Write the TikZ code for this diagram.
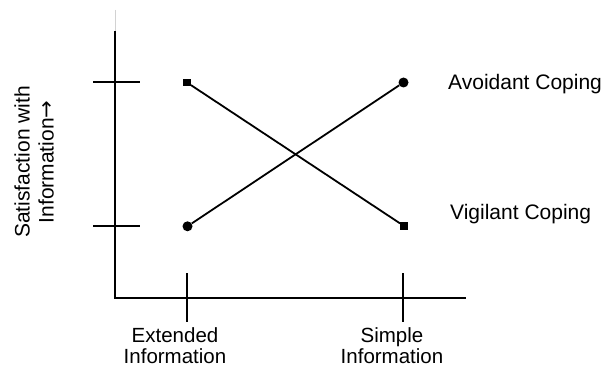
\documentclass[tikz,border=0pt]{standalone}
\usepackage{fontspec}
\setmainfont{Liberation Sans}
\newfontfamily\arrowfont{DejaVu Sans}
\usetikzlibrary{positioning}

\begin{document}
\begin{tikzpicture}[
    x=1pt,y=-1pt,
    font=\fontsize{21}{22}\selectfont,
    axis/.style={line width=2pt},
    tickmark/.style={line width=2pt},
    trend/.style={line width=1.8pt},
    dotmark/.style={circle,fill,inner sep=0pt,minimum size=10pt},
    sqmark/.style={rectangle,fill,inner sep=0pt,minimum size=7.5pt},
    legend/.style={anchor=base west,inner sep=0pt},
    xlabel/.style={align=center,anchor=north,inner sep=0pt,font=\fontsize{20.5}{21}\selectfont}
  ]
  \useasboundingbox (0,0) rectangle (606,369);

  \coordinate (o) at (115,298);
  \coordinate (ytop) at (115,31);
  \coordinate (yfaint) at (115,10);
  \coordinate (xend) at (466,298);
  \draw[gray!35,line width=1pt] (yfaint) -- (ytop);
  \draw[axis] (ytop) -- (o) -- (xend);

  \coordinate (yt1a) at (93,82);  \coordinate (yt1b) at (140,82);
  \coordinate (yt2a) at (93,226); \coordinate (yt2b) at (140,226);
  \draw[tickmark] (yt1a) -- (yt1b);
  \draw[tickmark] (yt2a) -- (yt2b);

  \coordinate (xt1a) at (187,273); \coordinate (xt1b) at (187,322);
  \coordinate (xt2a) at (403,273); \coordinate (xt2b) at (403,322);
  \draw[tickmark] (xt1a) -- (xt1b);
  \draw[tickmark] (xt2a) -- (xt2b);

  \node(av1) [sqmark] at (187,82.5) {};
  \node(av2) [sqmark] at (404,226) {};
  \draw[trend] (av1) -- (av2);

  \node(vg1) [dotmark] at (187.5,226.3) {};
  \node(vg2) [dotmark] at (403.5,82.5) {};
  \draw[trend] (vg1) -- (vg2);

  \node(lav) [legend] at (448,90) {Avoidant Coping};
  \node(lvg) [legend] at (450,219) {Vigilant Coping};

  \node(lext) [xlabel] at (175,327) {Extended\\Information};
  \node(lsim) [xlabel] at (392,327) {Simple\\Information};

  \node(lsat) [rotate=90,align=center,inner sep=0pt,font=\fontsize{21}{24}\selectfont] at (34,162) {Satisfaction with\\Information{\arrowfont→}};
\end{tikzpicture}
\end{document}
